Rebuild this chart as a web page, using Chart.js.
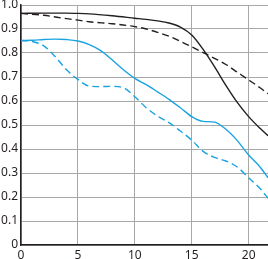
<!DOCTYPE html>
<html>
<head>
<meta charset="utf-8">
<script src="https://cdn.jsdelivr.net/npm/chart.js@4"></script>
<style>
  html, body { margin: 0; padding: 0; background: #fff; }
  #wrap { width: 268px; height: 259px; }
</style>
</head>
<body>
<div id="wrap"><canvas id="mtf"></canvas></div>
<script>
// x positions (image height, mm) and contrast values
let xBlack = [0, 2, 4, 5, 6, 8, 10, 11, 12, 13, 14, 15, 16, 17, 18, 19, 20, 21, 21.7];
let blackSolid = [0.965, 0.966, 0.966, 0.965, 0.963, 0.955, 0.945, 0.94, 0.934, 0.925, 0.908, 0.875, 0.815, 0.743, 0.665, 0.594, 0.535, 0.486, 0.455];
let blackDashed = [0.965, 0.957, 0.943, 0.937, 0.93, 0.922, 0.91, 0.9, 0.886, 0.87, 0.849, 0.826, 0.802, 0.778, 0.752, 0.72, 0.688, 0.655, 0.63];

let xBlue = [0, 1, 2, 3, 4, 5, 6, 7, 8, 9, 10, 11, 12, 13, 14, 15, 16, 17, 18, 19, 20, 21, 21.7];
let blueSolid = [0.852, 0.853, 0.856, 0.858, 0.856, 0.85, 0.835, 0.81, 0.772, 0.73, 0.694, 0.668, 0.638, 0.607, 0.572, 0.535, 0.515, 0.512, 0.482, 0.435, 0.375, 0.325, 0.28];
let blueDashed = [0.852, 0.848, 0.83, 0.785, 0.73, 0.69, 0.662, 0.66, 0.661, 0.655, 0.618, 0.572, 0.537, 0.51, 0.475, 0.437, 0.39, 0.365, 0.35, 0.325, 0.28, 0.235, 0.195];

let xTicks = [0, 5, 10, 15, 20];

// turn x and y arrays into points
function toPoints(xs, ys) {
  return xs.map((x, i) => ({ x: x, y: ys[i] }));
}

let dark = "#231f20";
let blue = "#1aa3e0";

function series(xs, ys, color, dashed) {
  return {
    data: toPoints(xs, ys),
    borderColor: color,
    borderWidth: 1.4,
    borderDash: dashed ? [7, 4] : [],
    pointRadius: 0,
    fill: false,
    cubicInterpolationMode: "monotone"
  };
}

let ctx = document.getElementById("mtf").getContext("2d");
let chart = new Chart(ctx, {
  type: "line",
  data: {
    datasets: [
      series(xBlack, blackSolid, dark, false),
      series(xBlack, blackDashed, dark, true),
      series(xBlue, blueSolid, blue, false),
      series(xBlue, blueDashed, blue, true)
    ]
  },
  options: {
    responsive: true,
    maintainAspectRatio: false,
    animation: false,
    layout: { padding: { top: 5, right: 0, left: 0, bottom: 0 } },
    plugins: { legend: { display: false }, tooltip: { enabled: false } },
    scales: {
      x: {
        type: "linear",
        min: 0,
        max: 21.7,
        afterBuildTicks: scale => {
          scale.ticks = xTicks.map(v => ({ value: v })).concat([{ value: 21.7 }]);
        },
        afterFit: scale => {
          scale.height = 14;
          scale.paddingLeft = 0;
          scale.paddingRight = 0;
        },
        grid: { color: "#a8a8a8", lineWidth: 1, drawTicks: false },
        border: { color: dark, width: 1.5 },
        ticks: {
          padding: 3,
          color: dark,
          font: { family: "Noto Sans", size: 12 },
          maxRotation: 0,
          autoSkip: false,
          callback: v => (xTicks.includes(v) ? String(v) : "")
        }
      },
      y: {
        min: 0,
        max: 1,
        afterFit: scale => {
          scale.width = 21;
          scale.paddingTop = 0;
          scale.paddingBottom = 0;
        },
        grid: { color: "#a8a8a8", lineWidth: 1, drawTicks: false },
        border: { color: dark, width: 1.5 },
        ticks: {
          stepSize: 0.1,
          padding: 3,
          color: dark,
          font: { family: "Noto Sans", size: 12 },
          callback: v => (v === 0 ? "0" : v.toFixed(1))
        }
      }
    }
  }
});
</script>
</body>
</html>
